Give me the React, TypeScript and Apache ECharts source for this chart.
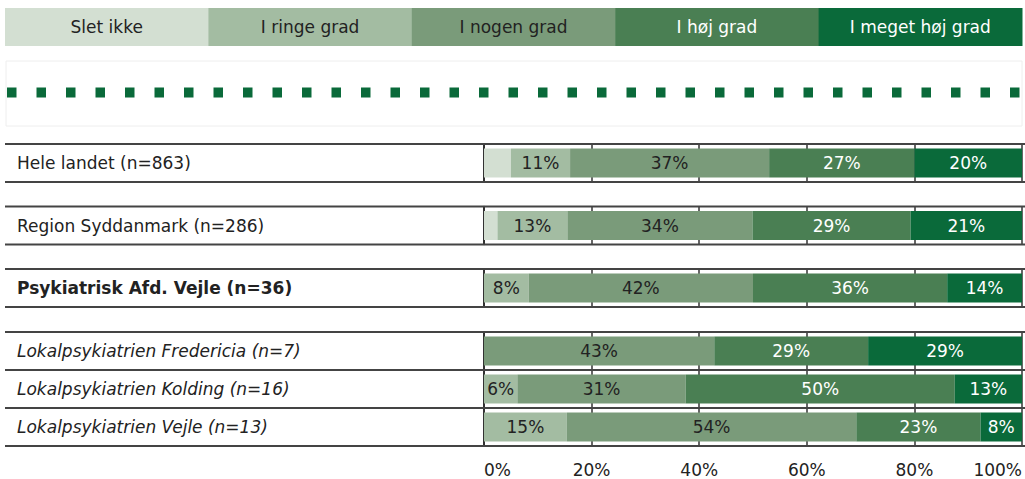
import React, { useEffect, useRef } from "react";
import * as echarts from "echarts";

// ---- Data ----
const LEVELS = ["Slet ikke", "I ringe grad", "I nogen grad", "I høj grad", "I meget høj grad"];
const ROWS = [
  "Hele landet (n=863)",
  "Region Syddanmark (n=286)",
  "Psykiatrisk Afd. Vejle (n=36)",
  "Lokalpsykiatrien Fredericia (n=7)",
  "Lokalpsykiatrien Kolding (n=16)",
  "Lokalpsykiatrien Vejle (n=13)",
];
// percentages per level, one value per row
const SLET_IKKE = [5, 2.5, 0, 0, 0, 0];
const RINGE = [11, 13, 8.3, 0, 6.2, 15.4];
const NOGEN = [37, 34.4, 41.7, 42.8, 31.3, 53.8];
const HOJ = [27, 29.4, 36.1, 28.6, 50, 23.1];
const MEGET_HOJ = [20, 20.7, 13.9, 28.6, 12.5, 7.7];
const X_TICKS_MIN = 0;
const X_TICKS_MAX = 100;
const X_TICK_STEP = 20;

const VALUES = [SLET_IKKE, RINGE, NOGEN, HOJ, MEGET_HOJ];

// ---- Styles / layout ----
const COLORS = ["#d3dfd2", "#a3bca2", "#7a9b7a", "#4a7f53", "#0a6a3a"];
const TEXT_COLORS = ["#222222", "#222222", "#222222", "#ffffff", "#ffffff"];
const ROW_STYLE = ["normal", "normal", "bold", "italic", "italic", "italic"];
const FONT = "DejaVu Sans";
const GRID_TOPS = [144, 206.5, 269, 332, 370, 408];
const GRID_H = 38;
const GRID_LEFT = 484;
const GRID_RIGHT = 3;

export default function App() {
  const ref = useRef<HTMLDivElement>(null);

  useEffect(() => {
    if (!ref.current) return;
    const chart = echarts.init(ref.current, null, { renderer: "svg" });

    const grids = GRID_TOPS.map((t) => ({ left: GRID_LEFT, right: GRID_RIGHT, top: t, height: GRID_H }));
    const last = ROWS.length - 1;

    const xAxes = ROWS.map((_, i) => ({
      type: "value",
      gridIndex: i,
      min: X_TICKS_MIN,
      max: X_TICKS_MAX,
      interval: X_TICK_STEP,
      axisLine: { show: false },
      axisTick: { show: false },
      splitLine: { show: true, lineStyle: { color: "#333", width: 1.5 } },
      axisLabel: {
        show: i === last,
        formatter: "{value}%",
        margin: 15,
        fontSize: 17,
        fontFamily: FONT,
        color: "#222",
        alignMinLabel: "left",
        alignMaxLabel: "right",
      },
    }));

    const yAxes = ROWS.map((name, i) => ({
      type: "category",
      gridIndex: i,
      data: [name],
      axisTick: { show: false },
      axisLine: { show: true, lineStyle: { color: "#222", width: 1.5 } },
      axisLabel: {
        align: "left",
        margin: GRID_LEFT - 17,
        fontSize: 17,
        fontFamily: FONT,
        color: "#222",
        fontWeight: ROW_STYLE[i] === "bold" ? "bold" : "normal",
        fontStyle: ROW_STYLE[i] === "italic" ? "italic" : "normal",
      },
    }));

    const series: any[] = [];
    ROWS.forEach((_, i) => {
      LEVELS.forEach((lvl, j) => {
        series.push({
          type: "bar",
          name: lvl,
          xAxisIndex: i,
          yAxisIndex: i,
          stack: "row" + i,
          barWidth: 29,
          data: [VALUES[j][i]],
          itemStyle: { color: COLORS[j] },
          label: {
            show: j > 0,
            position: "inside",
            color: TEXT_COLORS[j],
            fontSize: 17,
            fontFamily: FONT,
            formatter: (p: any) => (p.value > 0 ? Math.round(p.value) + "%" : ""),
          },
        });
      });
    });

    // legend boxes
    const legX0 = 5;
    const legW = (1022 - 5) / LEVELS.length;
    const graphics: any[] = [];
    LEVELS.forEach((lvl, j) => {
      graphics.push({
        type: "rect",
        shape: { x: legX0 + j * legW, y: 8, width: legW + 0.5, height: 38 },
        style: { fill: COLORS[j] },
      });
      graphics.push({
        type: "text",
        x: legX0 + j * legW + legW / 2,
        y: 27,
        style: {
          text: lvl,
          fill: TEXT_COLORS[j],
          font: `17px "${FONT}"`,
          align: "center",
          verticalAlign: "middle",
        },
      });
    });
    // dashed box
    graphics.push({
      type: "rect",
      shape: { x: 6, y: 61, width: 1016, height: 65 },
      style: { fill: "none", stroke: "#eeeeee", lineWidth: 1 },
    });
    graphics.push({
      type: "line",
      shape: { x1: 7, y1: 92.5, x2: 1021, y2: 92.5 },
      style: { stroke: "#0a6a3a", lineWidth: 10, lineDash: [9.5, 20] },
    });
    // row frame lines
    GRID_TOPS.forEach((t) => {
      [t, t + GRID_H].forEach((y) => {
        graphics.push({
          type: "line",
          shape: { x1: 5, y1: y, x2: 1025, y2: y },
          style: { stroke: "#444444", lineWidth: 2 },
          z: 10,
        });
      });
    });

    chart.setOption({
      animation: false,
      grid: grids,
      xAxis: xAxes,
      yAxis: yAxes,
      series,
      graphic: graphics,
    });

    return () => chart.dispose();
  }, []);

  return (
    <div
      ref={ref}
      style={{ position: "fixed", left: 0, top: 0, width: 1025, height: 479, background: "#fff" }}
    />
  );
}
